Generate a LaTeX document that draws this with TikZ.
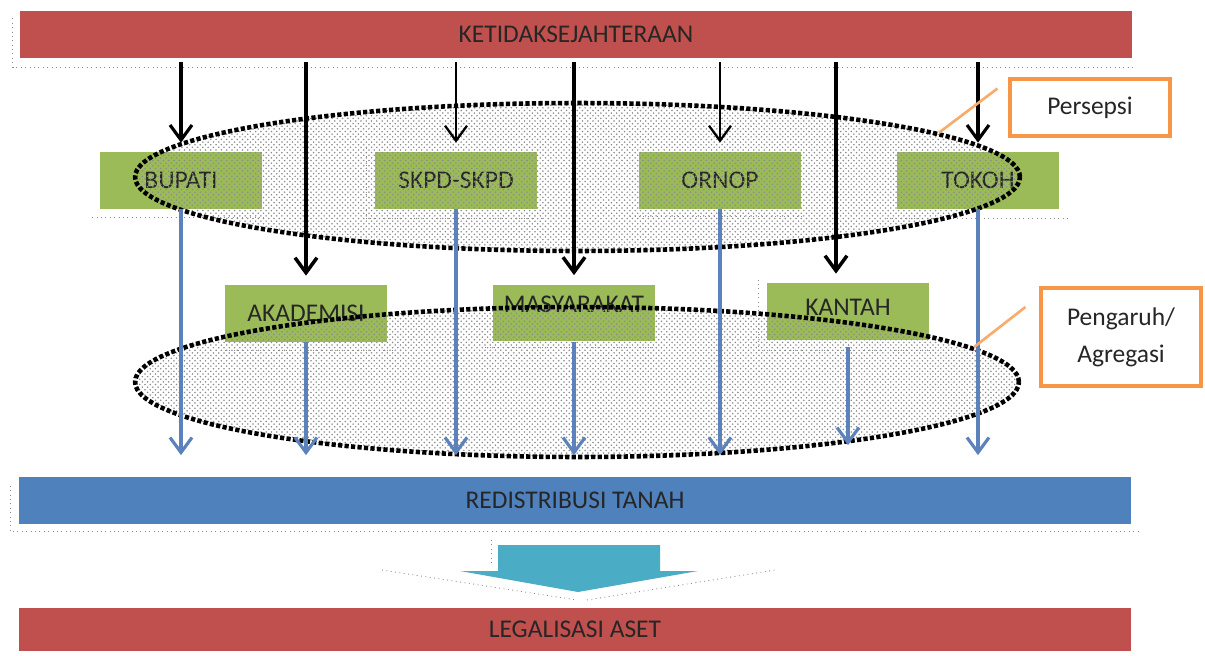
\documentclass[tikz,border=0pt]{standalone}
\usepackage{fontspec}
\setmainfont{Carlito}
\usetikzlibrary{arrows.meta,shapes.geometric,patterns}
\definecolor{barred}{HTML}{C0504D}
\definecolor{barblue}{HTML}{4F81BD}
\definecolor{boxgreen}{HTML}{9BBB59}
\definecolor{noteorange}{HTML}{F79646}
\definecolor{flowteal}{HTML}{4BACC6}
\definecolor{linkblue}{HTML}{5B82BA}
\begin{document}
\begin{tikzpicture}[x=0.02cm, y=-0.02cm,
    every node/.style={font=\fontsize{14.5}{17}\selectfont, text=black!85},
    bar/.style={minimum width=22.24cm, minimum height=0.94cm, inner sep=0pt},
    actor/.style={fill=boxgreen, minimum width=3.26cm, minimum height=1.14cm, inner sep=0pt},
    note/.style={draw=noteorange, line width=1.8pt, fill=white, minimum width=3.2cm, inner sep=0pt, align=center},
    ring/.style={ellipse, draw=black, line width=2.6pt, dash pattern=on 2.4pt off 1.3pt, pattern=crosshatch dots, pattern color=black!45, inner sep=0pt},
    hit/.style={-{Straight Barb[length=3mm, width=4.4mm]}, line width=1.8pt, shorten <=0.08cm, shorten >=0.18cm},
    feed/.style={-{Straight Barb[length=3mm, width=4.4mm]}, linkblue, line width=1.8pt, shorten >=0.42cm},
    trace/.style={black!45, line width=0.5pt, dotted},
    pointer/.style={noteorange!80, line width=1.5pt}]
    \useasboundingbox (0,0) rectangle (1205,656) ;

    \node [bar, fill=barred] (ket) at (576,34.5) {KETIDAKSEJAHTERAAN} ;
    \node [actor] (bup) at (181,180.5) {BUPATI} ;
    \node [actor] (skpd) at (456,180.5) {SKPD-SKPD} ;
    \node [actor] (orn) at (720,180.5) {ORNOP} ;
    \node [actor] (tok) at (978,180.5) {TOKOH} ;
    \node [actor] (aka) at (306,313.5) {AKADEMISI} ;
    \node [actor, text depth=0.35cm] (mas) at (574,313) {MASYARAKAT} ;
    \node [actor, text depth=0.15cm] (kan) at (848,311.5) {KANTAH} ;
    \node [bar, fill=barblue] (redis) at (575,500) {REDISTRIBUSI TANAH} ;
    \node [bar, fill=barred, minimum height=0.86cm] (leg) at (575,629.5) {LEGALISASI ASET} ;
    \coordinate (kanin) at ([xshift=-0.24cm]kan.north) ;

    % shadow traces
    \draw [trace] ([shift={(-7,-40)}]ket.south west) |- ([shift={(1,9)}]ket.south east) ;
    \draw [trace] ([shift={(-8,-38)}]redis.south west) |- ([shift={(7,8)}]redis.south east) ;
    \draw [trace] ([shift={(-7,8)}]bup.south west) -- ([shift={(5,8)}]bup.south east) ;
    \draw [trace] ([shift={(-8,-4)}]skpd.north west) |- ([shift={(8,9)}]skpd.south east) ;
    \draw [trace] ([shift={(-8,7)}]orn.south west) -- ([shift={(2,7)}]orn.south east) ;
    \draw [trace] ([shift={(-9,9)}]tok.south west) -- ([shift={(8,9)}]tok.south east) ;
    \draw [trace] ([shift={(-8,8)}]aka.south west) -- ([shift={(5,8)}]aka.south east) ;
    \draw [trace] ([shift={(-7,6)}]mas.south west) -- ([shift={(5,6)}]mas.south east) ;
    \draw [trace] ([shift={(-8,-3)}]kan.north west) |- ([shift={(8,10)}]kan.south east) ;

    \node [ring, minimum width=17.7cm, minimum height=2.96cm] (ringa) at (577.5,177) {} ;
    \node [ring, minimum width=17.68cm, minimum height=3cm] (ringb) at (577,382) {} ;

    \draw [hit] (ket.south -| bup.north) -- (bup.north) ;
    \draw [hit, line width=1.3pt] (ket.south -| skpd.north) -- (skpd.north) ;
    \draw [hit, line width=1.3pt] (ket.south -| orn.north) -- (orn.north) ;
    \draw [hit] (ket.south -| tok.north) -- (tok.north) ;
    \draw [hit, line width=2pt] (ket.south -| aka.north) -- (aka.north) ;
    \draw [hit, line width=2pt] (ket.south -| mas.north) -- (mas.north) ;
    \draw [hit, line width=2pt] (ket.south -| kanin) -- (kanin) ;

    \draw [feed] (bup.south) -- (bup.south |- redis.north) ;
    \draw [feed] (skpd.south) -- (skpd.south |- redis.north) ;
    \draw [feed] (orn.south) -- (orn.south |- redis.north) ;
    \draw [feed] (tok.south) -- (tok.south |- redis.north) ;
    \draw [feed] (aka.south) -- (aka.south |- redis.north) ;
    \draw [feed] (mas.south) -- (mas.south |- redis.north) ;
    \draw [feed, shorten >=0.62cm, shorten <=0.14cm] (kan.south) -- (kan.south |- redis.north) ;

    \node [note, minimum height=1.14cm] (npers) at (1090,107.5) {Persepsi} ;
    \node [note, minimum height=1.96cm, font=\fontsize{14.5}{21}\selectfont] (npeng) at (1121,337) {Pengaruh/\\Agregasi} ;
    \draw [pointer] ([shift={(-11,-19)}]npers.west) -- (ringa.7) ;
    \draw [pointer] ([shift={(-14,-30)}]npeng.west) -- (ringb.5) ;

    \fill [flowteal] (498,545) -- (660,545) -- (660,571) -- (698,571) -- (578,592) -- (460,571) -- (498,571) -- cycle ;
    \draw [trace] (491,540) -- (491,563) ;
    \draw [trace] (382,570) -- (577,600) ;
    \draw [trace] (587,600) -- (775,570) ;
\end{tikzpicture}
\end{document}
